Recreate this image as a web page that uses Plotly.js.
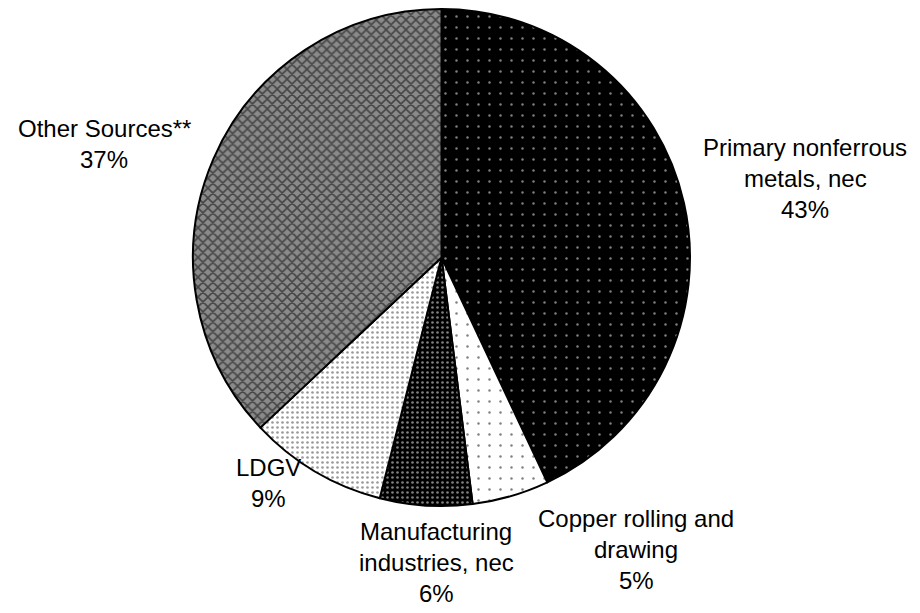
<!DOCTYPE html>
<html>
<head>
<meta charset="utf-8">
<script src="https://cdn.plot.ly/plotly-3.0.1.min.js"></script>
<style>html,body{margin:0;padding:0;background:#fff;}#chart{width:920px;height:613px;}</style>
</head>
<body>
<div id="chart"></div>
<script>
// Data
var categories = ["Primary nonferrous metals, nec", "Copper rolling and drawing", "Manufacturing industries, nec", "LDGV", "Other Sources**"];
var shares = [43, 5, 6, 9, 37];
var labelLines = [["Primary nonferrous", "metals, nec"], ["Copper rolling and", "drawing"], ["Manufacturing", "industries, nec"], ["LDGV"], ["Other Sources**"]];

// Styles (patterns per slice)
var patShape = [".", ".", ".", ".", "x"];
var patBg = ["#000000", "#ffffff", "#000000", "#ffffff", "#8a8a8a"];
var patFg = ["#ffffff", "#000000", "#ffffff", "#333333", "#000000"];
var patSize = [11, 11, 5, 5, 7];
var patSolid = [0.04, 0.04, 0.22, 0.22, 0.4];

// Label block centers (figure px) and line spacing
var labelPos = [[805, 147], [636, 518], [436, 531], [268, 467], [104, 128]];
var lineGap = 31;

var W = 920, H = 613;
var M = {l: 0, r: 37, t: 9, b: 107};
var PW = W - M.l - M.r, PH = H - M.t - M.b;
var total = shares.reduce(function(a, b) { return a + b; }, 0);
var annotations = [];
categories.forEach(function(c, i) {
  var lines = labelLines[i].concat([Math.round(shares[i] / total * 100) + "%"]);
  lines.forEach(function(t, k) {
    annotations.push({
      text: t, showarrow: false, xref: "paper", yref: "paper",
      x: (labelPos[i][0] - M.l) / PW, y: 1 - (labelPos[i][1] + k * lineGap - M.t) / PH,
      xanchor: "center", yanchor: "middle",
      font: {family: "Liberation Sans, Arial, sans-serif", size: 24, color: "#000"}
    });
  });
});

var trace = {
  type: "pie",
  labels: categories,
  values: shares,
  sort: false,
  direction: "clockwise",
  rotation: 0,
  textinfo: "none",
  hoverinfo: "label+percent",
  marker: {
    colors: patBg,
    line: {color: "#000000", width: 2},
    pattern: {shape: patShape, bgcolor: patBg, fgcolor: patFg, size: patSize, solidity: patSolid, fillmode: "overlay"}
  },
  domain: {x: [0, 1], y: [0, 1]}
};

var layout = {
  width: W, height: H,
  margin: {l: M.l, r: M.r, t: M.t, b: M.b, pad: 0},
  showlegend: false,
  paper_bgcolor: "#ffffff",
  annotations: annotations
};

Plotly.newPlot("chart", [trace], layout, {staticPlot: true, displayModeBar: false});
</script>
</body>
</html>
